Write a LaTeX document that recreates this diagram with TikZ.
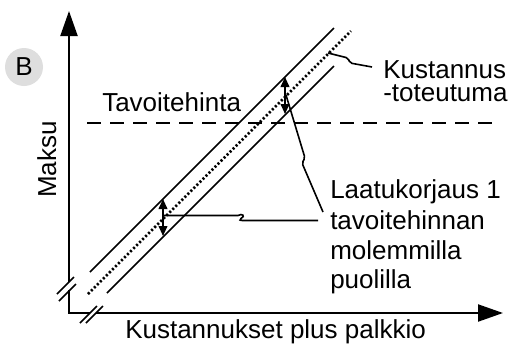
\documentclass[tikz,border=0pt]{standalone}
\usepackage{fontspec}
\setmainfont{Liberation Sans}
\usetikzlibrary{arrows.meta}
\begin{document}
\begin{tikzpicture}[x=0.75pt,y=-0.75pt,
  axisline/.style={line width=1.6pt},
  axisarrow/.style={axisline,-{Triangle[length=18.75pt,width=12.75pt]}},
  slash/.style={line width=1.3pt},
  diag/.style={line width=1.3pt},
  dotline/.style={line width=1.9pt,dash pattern=on 1.6pt off 1.6pt},
  dashline/.style={line width=1.8pt,dash pattern=on 10.5pt off 6.75pt},
  leader/.style={line width=1.2pt,rounded corners=1.5pt},
  dimarrow/.style={line width=1.3pt,{Triangle[length=7.5pt,width=6.5pt]}-{Triangle[length=7.5pt,width=6.5pt]}},
  lbl/.style={font=\fontsize{19.5}{22.5}\selectfont,inner sep=0pt},
  badge/.style={circle,fill=black!13,minimum size=28.5pt,inner sep=0pt,font=\fontsize{19.5}{22.5}\selectfont}
]
\useasboundingbox (0,0) rectangle (511,347);

% axes
\coordinate (O) at (69,313);
\coordinate (ybreakLow) at (69,290);
\coordinate (ybreakHigh) at (69,282);
\coordinate (ytip) at (69,11);
\coordinate (xbreakLeft) at (90,313);
\coordinate (xbreakRight) at (96,313);
\coordinate (xtip) at (503,313);
\draw[axisline] (ybreakLow) -- (O) -- (xbreakLeft);
\draw[axisarrow] (ybreakHigh) -- (ytip);
\draw[axisarrow] (xbreakRight) -- (xtip);
% break marks
\draw[slash] (57,294) -- (74,277);
\draw[slash] (59,301) -- (76,284);
\draw[slash] (80,323) -- (97,306);
\draw[slash] (86,323) -- (103,306);

% target price (dashed)
\coordinate (dashL) at (87,123);
\coordinate (dashR) at (495,123);
\draw[dashline] (dashL) -- (dashR);

% diagonal band
\coordinate (upA) at (90,272);
\coordinate (upB) at (334,28);
\coordinate (dotA) at (88,294);
\coordinate (dotB) at (351,31);
\coordinate (loA) at (107,293);
\coordinate (loB) at (334,66);
\draw[diag] (upA) -- (upB);
\draw[dotline] (dotA) -- (dotB);
\draw[diag] (loA) -- (loB);

% double arrows
\coordinate (arrUpT) at (285,77);
\coordinate (arrUpB) at (285,114);
\coordinate (arrLoT) at (163,199);
\coordinate (arrLoB) at (163,236);
\draw[dimarrow] (arrUpT) -- (arrUpB);
\draw[dimarrow] (arrLoT) -- (arrLoB);

% labels
\node[badge] (B) at (24,67) {B};
\node[lbl,anchor=base west] (tav) at (102,111.7) {Tavoitehinta};
\node[lbl,anchor=base west] (kus1) at (383,78) {Kustannus};
\node[lbl,anchor=base west] (kus2) at (383,101) {-toteutuma};
\node[lbl,anchor=base west] (laa1) at (330,198) {Laatukorjaus 1};
\node[lbl,anchor=base west] (laa2) at (330,229) {tavoitehinnan};
\node[lbl,anchor=base west] (laa3) at (330,259) {molemmilla};
\node[lbl,anchor=base west] (laa4) at (330,288) {puolilla};
\node[lbl,anchor=base west] (xlab) at (125,338) {Kustannukset plus palkkio};
\node[lbl,anchor=base,rotate=90] (ylab) at (56,159.5) {Maksu};

% leaders
\coordinate (l1s) at (164,215.5);
\coordinate (l1e) at (318,220.5);
\draw[line width=1.2pt] (l1s) -- (238,215.5)
  .. controls (242,213) and (246,216) .. (241,218.5)
  .. controls (239,220) and (240,220.5) .. (243,220.5) -- (l1e);
\coordinate (l2s) at (286,95);
\coordinate (l2e) at (323,212);
\draw[leader] (l2s) -- (305,158) -- (302,163) -- (l2e);
\coordinate (l3s) at (328,53);
\coordinate (l3e) at (372,67);
\draw[leader] (l3s) -- (348,58) -- (350,63) -- (l3e);
\end{tikzpicture}
\end{document}
